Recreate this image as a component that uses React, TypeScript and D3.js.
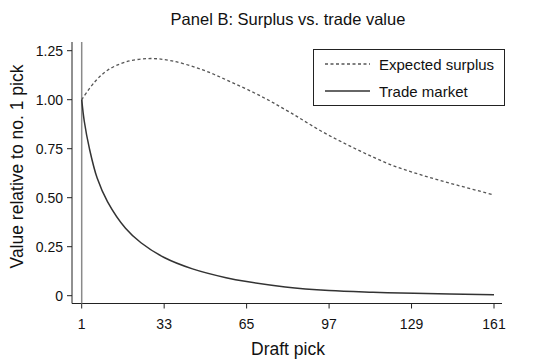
import React from "react";
import * as d3 from "d3";

const surplusPicks = [1, 6, 11, 18, 27, 36, 48, 59, 71, 82, 95, 108, 121, 134, 147, 161];
const surplusValues = [1.0, 1.09, 1.15, 1.192, 1.21, 1.198, 1.152, 1.09, 1.015, 0.934, 0.832, 0.745, 0.668, 0.611, 0.563, 0.514];

const tradePicks = [1, 2, 4, 7, 11, 18, 24, 33, 44, 57, 65, 80, 97, 114, 130, 161];
const tradeValues = [1.0, 0.89, 0.75, 0.6, 0.48, 0.344, 0.27, 0.195, 0.137, 0.092, 0.072, 0.045, 0.027, 0.018, 0.012, 0.005];

const xTicks = [1, 33, 65, 97, 129, 161];
const yTicks = [0, 0.25, 0.5, 0.75, 1.0, 1.25];
const yTickLabels = ["0", "0.25", "0.50", "0.75", "1.00", "1.25"];

const FONT = "'Liberation Sans', Arial, Helvetica, sans-serif";

export default function App() {
  const W = 542, H = 363;
  const x = d3.scaleLinear().domain([1, 161]).range([81.7, 494]);
  const y = d3.scaleLinear().domain([0, 1.25]).range([295.7, 50.7]);
  const axisX = 72;
  const axisY = 303.5;

  const line = d3
    .line<[number, number]>()
    .x((d) => x(d[0]))
    .y((d) => y(d[1]))
    .curve(d3.curveCatmullRom.alpha(0.5));

  const surplus = surplusPicks.map((p, i) => [p, surplusValues[i]] as [number, number]);
  const trade = tradePicks.map((p, i) => [p, tradeValues[i]] as [number, number]);

  return (
    <svg
      width={W}
      height={H}
      style={{ position: "absolute", left: 0, top: 0, background: "#fff" }}
      fontFamily={FONT}
    >
      <text x={288} y={25} textAnchor="middle" fontSize={16.5} fill="#111">
        Panel B: Surplus vs. trade value
      </text>

      {/* axes */}
      <line x1={axisX} x2={axisX} y1={42} y2={axisY} stroke="#222" strokeWidth={1} />
      <line x1={axisX} x2={502} y1={axisY} y2={axisY} stroke="#222" strokeWidth={1} />

      {yTicks.map((t, i) => (
        <g key={"y" + i}>
          <line x1={axisX - 5} x2={axisX} y1={y(t)} y2={y(t)} stroke="#222" />
          <text x={63} y={y(t) + 5} textAnchor="end" fontSize={14} fill="#111">
            {yTickLabels[i]}
          </text>
        </g>
      ))}
      {xTicks.map((t) => (
        <g key={"x" + t}>
          <line x1={x(t)} x2={x(t)} y1={axisY} y2={axisY + 5} stroke="#222" />
          <text x={x(t)} y={328.5} textAnchor="middle" fontSize={14} fill="#111">
            {t}
          </text>
        </g>
      ))}

      <text x={288} y={355} textAnchor="middle" fontSize={17.5} fill="#111">
        Draft pick
      </text>
      <text
        transform={`translate(23,166.5) rotate(-90)`}
        textAnchor="middle"
        fontSize={17.5}
        fill="#111"
      >
        Value relative to no. 1 pick
      </text>

      {/* reference vertical line at pick 1 */}
      <line x1={x(1)} x2={x(1)} y1={42} y2={axisY} stroke="#8a8a8a" strokeWidth={1.5} />

      <path d={line(surplus) || ""} fill="none" stroke="#555" strokeWidth={1.3} strokeDasharray="3,2.5" />
      <path d={line(trade) || ""} fill="none" stroke="#333" strokeWidth={1.5} />

      {/* legend */}
      <rect x={313.5} y={49.5} width={191} height={56} fill="#fff" stroke="#222" strokeWidth={1} />
      <line x1={325} x2={370} y1={64} y2={64} stroke="#555" strokeWidth={1.3} strokeDasharray="3,2.5" />
      <text x={379} y={69.5} fontSize={15} fill="#111">Expected surplus</text>
      <line x1={325} x2={370} y1={91} y2={91} stroke="#333" strokeWidth={1.5} />
      <text x={379} y={96.5} fontSize={15} fill="#111">Trade market</text>
    </svg>
  );
}
